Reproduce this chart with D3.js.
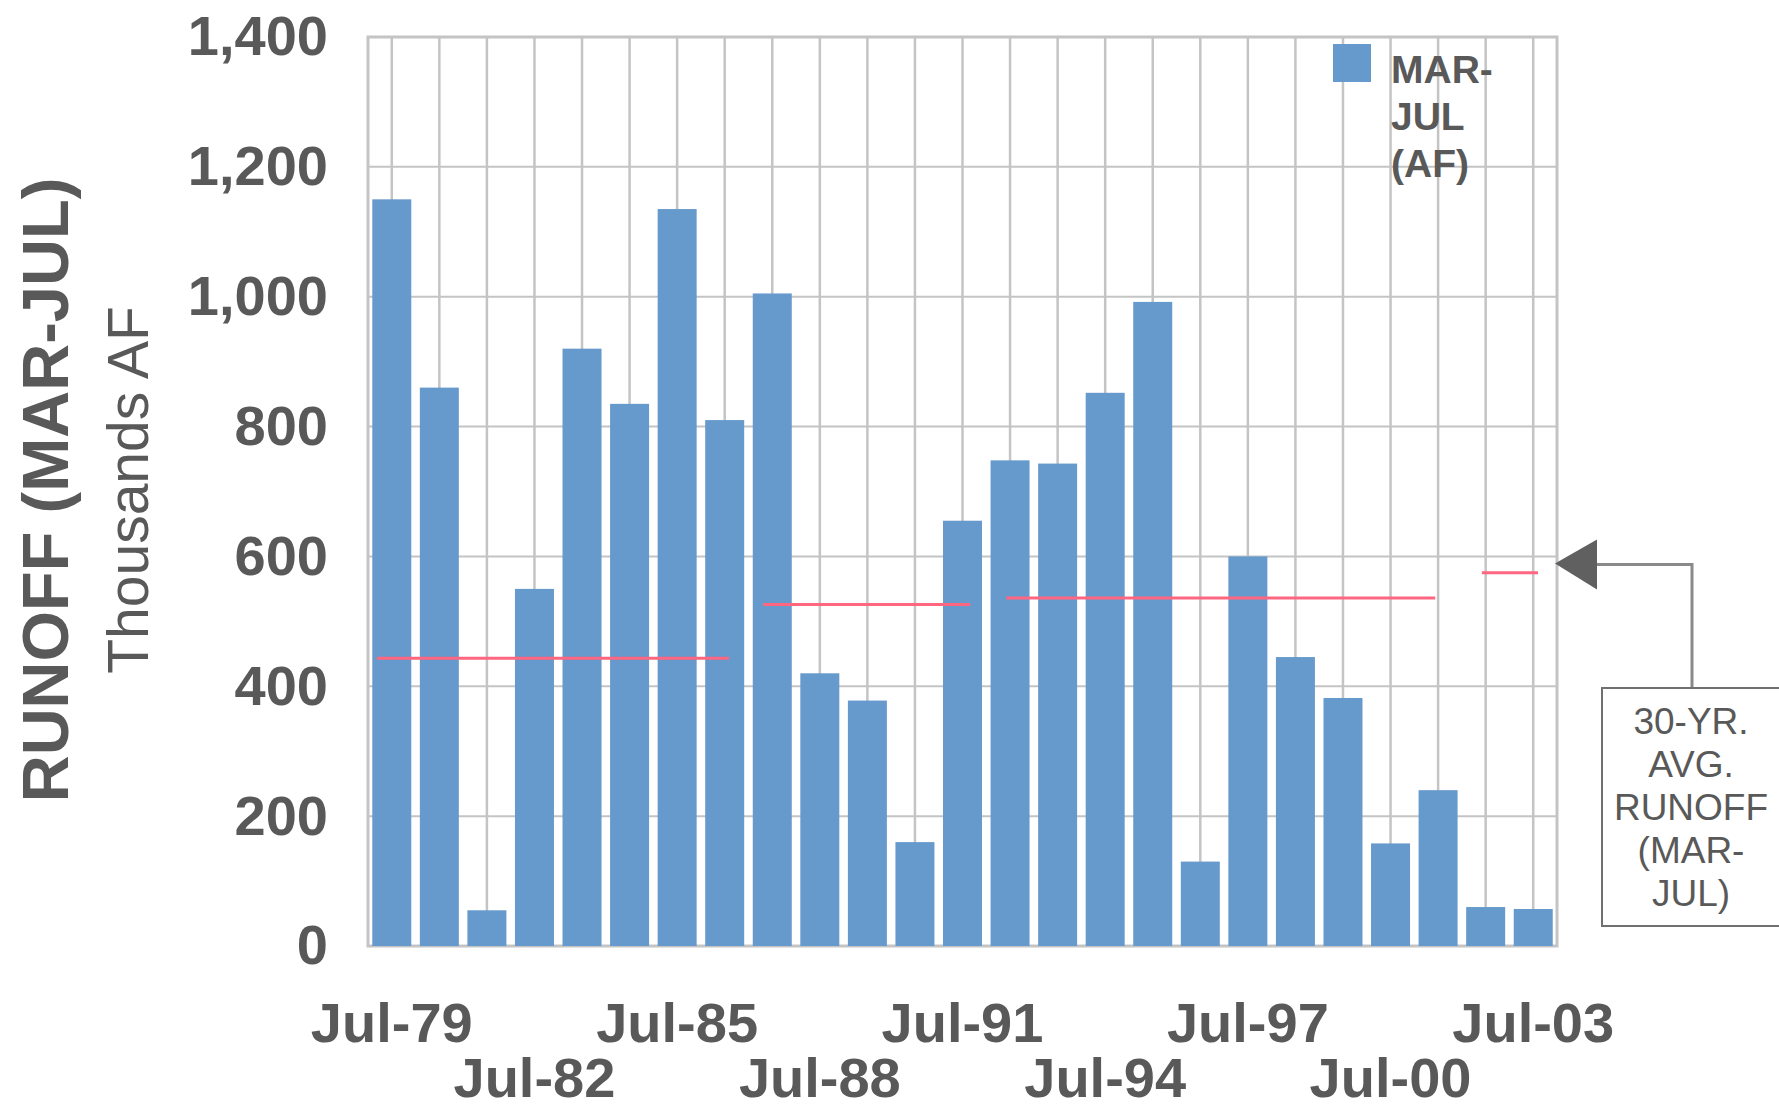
<!DOCTYPE html>
<html>
<head>
<meta charset="utf-8">
<script src="https://cdn.jsdelivr.net/npm/d3@7"></script>
<style>
    html, body { margin: 0; padding: 0; background: #fff; }
    svg { display: block; font-family: "Liberation Sans", Arial, sans-serif; }
</style>
</head>
<body>
<svg width="1779" height="1112"></svg>
<script>
// years (one bar per July)
const years = ["Jul-79","Jul-80","Jul-81","Jul-82","Jul-83","Jul-84","Jul-85","Jul-86","Jul-87",
               "Jul-88","Jul-89","Jul-90","Jul-91","Jul-92","Jul-93","Jul-94","Jul-95","Jul-96",
               "Jul-97","Jul-98","Jul-99","Jul-00","Jul-01","Jul-02","Jul-03"];

// runoff MAR-JUL, thousands AF
const runoff = [1150, 860, 55, 550, 920, 835, 1135, 810, 1005,
                420, 378, 160, 655, 748, 743, 852, 992, 130,
                600, 445, 382, 158, 240, 60, 57];

const tickLabelsTop    = ["Jul-79","Jul-85","Jul-91","Jul-97","Jul-03"];
const tickLabelsBottom = ["Jul-82","Jul-88","Jul-94","Jul-00"];
const yTicks = [0, 200, 400, 600, 800, 1000, 1200, 1400];

// 30-yr average segments : value, start / end in bar-index units
const avgValues = [443, 526, 536, 575];
const avgStart  = [0.19, 8.31, 13.42, 23.42];
const avgEnd    = [7.59, 12.66, 22.44, 24.6];
const arrowValue = 589;

const legendLines = ["MAR-", "JUL", "(AF)"];
const noteLines   = ["30-YR.", "AVG.", "RUNOFF", "(MAR-", "JUL)"];

const W = 1779, H = 1112;
const margin = {top: 37, right: 222, bottom: 166, left: 368};
const plotL = margin.left, plotR = W - margin.right;
const plotT = margin.top, plotB = H - margin.bottom;

const textCol = "#595959";
const gridCol = "#c4c4c4";
const barCol  = "#6699cc";

const svg = d3.select("svg");

const x = d3.scaleBand()
    .domain(years)
    .range([plotL, plotR])
    .paddingInner(0.18)
    .paddingOuter(0.09);

const xi = d3.scaleLinear().domain([0, years.length]).range([plotL, plotR]);

const y = d3.scaleLinear().domain([0, 1400]).range([plotB, plotT]);

// grid
svg.append("g")
    .selectAll("line")
    .data(yTicks)
    .enter()
    .append("line")
    .attr("x1", plotL).attr("x2", plotR)
    .attr("y1", d => y(d)).attr("y2", d => y(d))
    .attr("stroke", gridCol)
    .attr("stroke-width", 2);

svg.append("g")
    .selectAll("line")
    .data(years)
    .enter()
    .append("line")
    .attr("x1", d => x(d) + x.bandwidth() / 2)
    .attr("x2", d => x(d) + x.bandwidth() / 2)
    .attr("y1", plotT).attr("y2", plotB)
    .attr("stroke", gridCol)
    .attr("stroke-width", 2.5);

// frame
svg.append("rect")
    .attr("x", plotL).attr("y", plotT)
    .attr("width", plotR - plotL).attr("height", plotB - plotT)
    .attr("fill", "none")
    .attr("stroke", gridCol)
    .attr("stroke-width", 3);

// bars
svg.append("g")
    .selectAll("rect")
    .data(runoff)
    .enter()
    .append("rect")
    .attr("x", (d, i) => x(years[i]))
    .attr("y", d => y(d))
    .attr("width", x.bandwidth())
    .attr("height", d => y(0) - y(d))
    .attr("fill", barCol);

// average lines
svg.append("g")
    .selectAll("line")
    .data(avgValues)
    .enter()
    .append("line")
    .attr("x1", (d, i) => xi(avgStart[i]))
    .attr("x2", (d, i) => xi(avgEnd[i]))
    .attr("y1", d => y(d)).attr("y2", d => y(d))
    .attr("stroke", "#ff6680")
    .attr("stroke-width", 3);

// y axis labels
const yAxis = d3.axisLeft(y).tickValues(yTicks).tickSize(0).tickPadding(40)
    .tickFormat(d3.format(","));
const gy = svg.append("g")
    .attr("transform", `translate(${plotL},0)`)
    .call(yAxis);
gy.select(".domain").remove();
gy.selectAll("text")
    .attr("fill", textCol)
    .attr("font-size", 56)
    .attr("font-weight", "bold")
    .attr("font-family", "Liberation Sans, Arial, sans-serif");

// x labels, two staggered rows
svg.append("g")
    .selectAll("text")
    .data(tickLabelsTop)
    .enter()
    .append("text")
    .attr("x", d => x(d) + x.bandwidth() / 2)
    .attr("y", 1042)
    .attr("text-anchor", "middle")
    .attr("font-size", 56)
    .attr("font-weight", "bold")
    .attr("fill", textCol)
    .text(d => d);

svg.append("g")
    .selectAll("text")
    .data(tickLabelsBottom)
    .enter()
    .append("text")
    .attr("x", d => x(d) + x.bandwidth() / 2)
    .attr("y", 1097)
    .attr("text-anchor", "middle")
    .attr("font-size", 56)
    .attr("font-weight", "bold")
    .attr("fill", textCol)
    .text(d => d);

// axis titles
svg.append("text")
    .attr("transform", `translate(68,490) rotate(-90)`)
    .attr("text-anchor", "middle")
    .attr("font-size", 65)
    .attr("font-weight", "bold")
    .attr("fill", textCol)
    .text("RUNOFF (MAR-JUL)");

svg.append("text")
    .attr("transform", `translate(148,490) rotate(-90)`)
    .attr("text-anchor", "middle")
    .attr("font-size", 57)
    .attr("fill", textCol)
    .text("Thousands AF");

// legend
svg.append("rect")
    .attr("x", 1333).attr("y", 44)
    .attr("width", 38).attr("height", 38)
    .attr("fill", barCol);

svg.append("g")
    .selectAll("text")
    .data(legendLines)
    .enter()
    .append("text")
    .attr("x", 1391)
    .attr("y", (d, i) => 83 + i * 47)
    .attr("font-size", 39)
    .attr("font-weight", "bold")
    .attr("fill", textCol)
    .text(d => d);

// annotation arrow + box
const ay = y(arrowValue);
svg.append("path")
    .attr("d", `M${plotR - 2},${ay} L1597,${ay - 24} L1597,${ay + 26} Z`)
    .attr("fill", "#606060");

svg.append("path")
    .attr("d", `M1597,${ay + 1} H1692 V688`)
    .attr("fill", "none")
    .attr("stroke", "#8a8a8a")
    .attr("stroke-width", 3);

svg.append("rect")
    .attr("x", 1602).attr("y", 688)
    .attr("width", 190).attr("height", 238)
    .attr("fill", "#fff")
    .attr("stroke", "#707070")
    .attr("stroke-width", 2);

svg.append("g")
    .selectAll("text")
    .data(noteLines)
    .enter()
    .append("text")
    .attr("x", 1691)
    .attr("y", (d, i) => 734 + i * 43)
    .attr("text-anchor", "middle")
    .attr("font-size", 37)
    .attr("fill", textCol)
    .text(d => d);
</script>
</body>
</html>
